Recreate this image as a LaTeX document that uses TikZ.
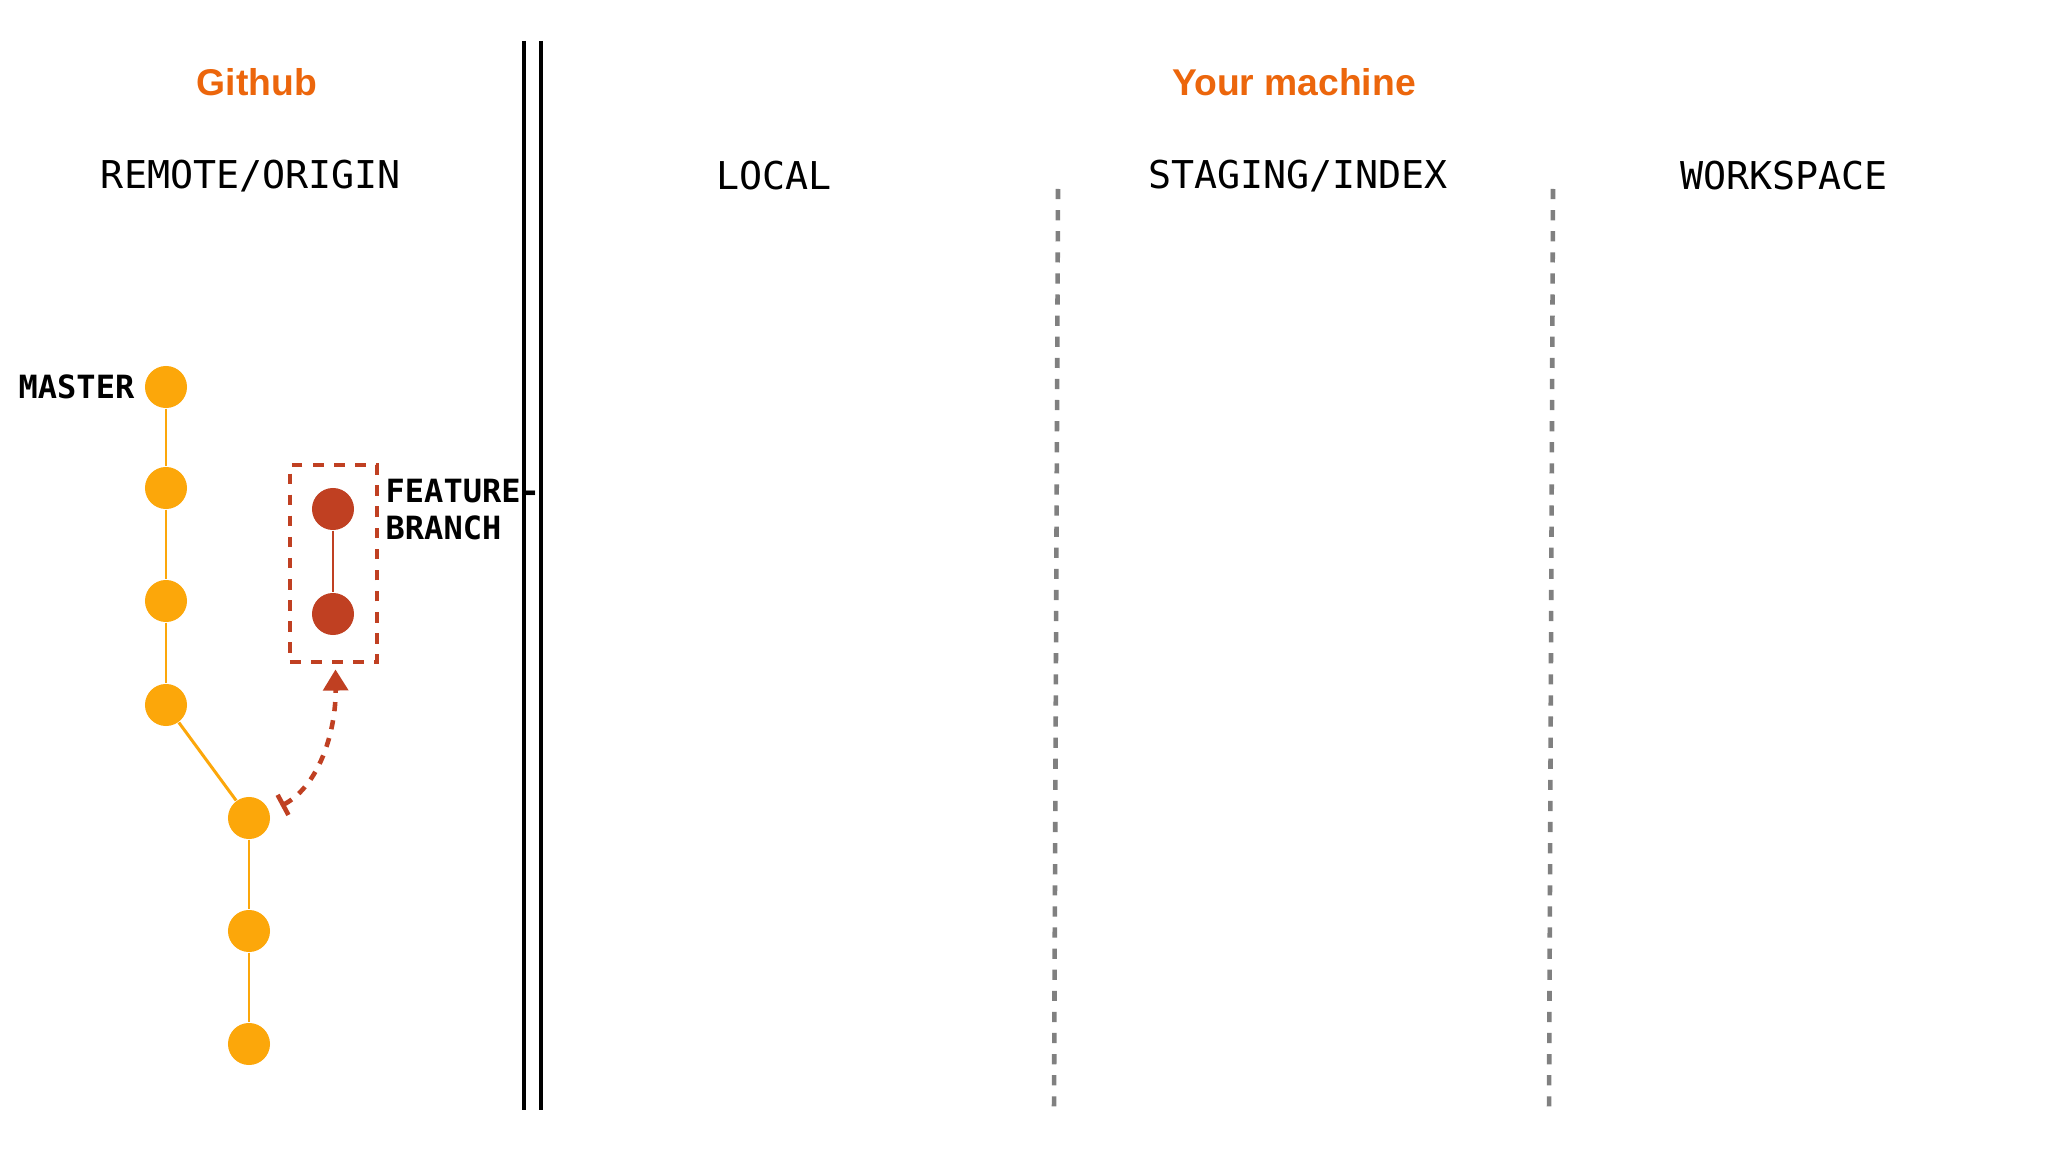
\documentclass[tikz,border=0pt]{standalone}
\usepackage{fontspec}
\setmainfont{Liberation Sans}
\setmonofont{DejaVu Sans Mono}
\usetikzlibrary{arrows.meta,calc}
\definecolor{hdrorange}{RGB}{236,102,12}
\definecolor{commitorange}{RGB}{252,167,10}
\definecolor{featred}{RGB}{192,64,34}
\definecolor{divgray}{RGB}{128,128,128}
\begin{document}
\begin{tikzpicture}[x=0.01cm,y=-0.01cm,
  hdrtext/.style={font=\fontsize{10.6pt}{12pt}\selectfont\bfseries, text=hdrorange, inner sep=0pt},
  coltext/.style={font=\fontsize{10.9pt}{13pt}\selectfont\ttfamily, inner sep=0pt},
  lbl/.style={font=\fontsize{9.1pt}{10.5pt}\selectfont\ttfamily\bfseries, inner sep=0pt},
  mcommit/.style={circle, fill=commitorange, minimum size=0.42cm, inner sep=0pt},
  fcommit/.style={circle, fill=featred, minimum size=0.42cm, inner sep=0pt},
  mline/.style={draw=commitorange, line width=0.85pt},
  fline/.style={draw=featred, line width=0.85pt},
  bar/.style={draw=black, line width=1.4pt},
  divider/.style={draw=divgray, line width=1.3pt, dash pattern=on 2.9pt off 3.1pt},
  fbox/.style={draw=featred, line width=1.35pt, dash pattern=on 3pt off 3pt, minimum width=0.87cm, minimum height=1.97cm, inner sep=0pt},
  farrow/.style={draw=featred, line width=1.3pt, dash pattern=on 2.6pt off 2.6pt, {Bar[width=6.5pt,sep=0pt]}-{Triangle[width=7pt,length=6pt]}}
]
\useasboundingbox (0,0) rectangle (2048,1152);
\fill[white] (0,0) rectangle (2048,1152);

% headers
\node[hdrtext] (github) at (257,82) {Github};
\node[hdrtext] (machine) at (1294,82) {Your machine};

% column titles
\node[coltext] (remote) at (251,176) {REMOTE/ORIGIN};
\node[coltext] (local) at (774,176) {LOCAL};
\node[coltext] (staging) at (1298,176) {STAGING/INDEX};
\node[coltext] (workspace) at (1784,176) {WORKSPACE};

% double separator
\coordinate (d1t) at (524,41);
\coordinate (d1b) at (524,1110);
\coordinate (d2t) at (541,41);
\coordinate (d2b) at (541,1110);
\draw[bar] (d1t) -- (d1b);
\draw[bar] (d2t) -- (d2b);

% dotted dividers
\coordinate (g1t) at (1058,189);
\coordinate (g1b) at (1054,1110);
\coordinate (g2t) at (1553,189);
\coordinate (g2b) at (1549,1110);
\draw[divider] (g1t) -- (g1b);
\draw[divider] (g2t) -- (g2b);

% master commits
\node[mcommit] (m1) at (166,387) {};
\node[mcommit] (m2) at (166,488) {};
\node[mcommit] (m3) at (166,601) {};
\node[mcommit] (m4) at (166,705) {};
\node[mcommit] (b1) at (249,818) {};
\node[mcommit] (b2) at (249,931) {};
\node[mcommit] (b3) at (249,1044) {};
\draw[mline] (m1) -- (m2);
\draw[mline] (m2) -- (m3);
\draw[mline] (m3) -- (m4);
\draw[mline] (m4) -- (b1);
\draw[mline] (b1) -- (b2);
\draw[mline] (b2) -- (b3);

% feature branch
\node[fbox] (fb) at (333.5,563.5) {};
\node[fcommit] (f1) at (333,509) {};
\node[fcommit] (f2) at (333,614) {};
\draw[fline] (f1) -- (f2);

% labels
\node[lbl, anchor=east] (master) at (135,387) {MASTER};
\node[lbl, anchor=west, align=left] (feat) at (385,510) {FEATURE-\\BRANCH};

% branch arrow
\coordinate (astart) at ($(b1)+(32,-12)$);
\draw[farrow] (astart) .. controls (320,785) and (336,730) .. ($(fb.south)+(2,5)$);
\end{tikzpicture}
\end{document}
